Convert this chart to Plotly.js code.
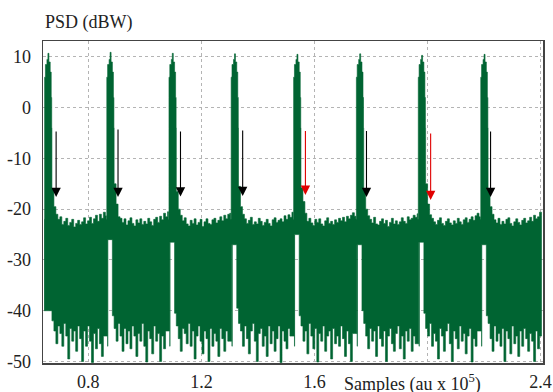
<!DOCTYPE html>
<html>
<head>
<meta charset="utf-8">
<script src="https://cdn.plot.ly/plotly-3.0.1.min.js"></script>
<style>html,body{margin:0;padding:0;background:#fff;}#chart{width:553px;height:392px;}</style>
</head>
<body>
<div id="chart"></div>
<script>
// ---- Data (x in units of 10^5 samples, y in dBW) ----
const peakX   = [0.657, 0.877, 1.097, 1.317, 1.538, 1.760, 1.979, 2.200];
const peakTop = [10.7, 10.9, 10.7, 10.6, 10.5, 10.6, 10.3, 10.5];
const gapLow  = [-40, -26, -26.5, -27, -25, -27, -26.5, -27];

// typical peak profile: offsets from the peak (10^5 samples) and levels (dBW)
const peakShapeDx = [-0.0135, -0.0117, -0.0088, -0.0035, 0, 0.0035, 0.0081, 0.0117, 0.0135];
const peakShapeDb = [-22, 6, 8.5, 9.5, null, 9, 7, 2, -4];

// noise blocks after each peak: sample offset start and spacing (10^5 samples)
const blockStart = 0.0142;
const blockStep = 0.007;

const upper1 = [-16,-19.5,-21,-22,-21.5,-23,-22.4,-21.8,-23.2,-22.6,-22,-23.5,-22.8,-22.2,-23,-22.5,-21.7,-22.9,-22.3,-21.6,-22.8,-21.9,-21.2,-22.4,-21,-21.8,-20.6,-21.3];
const lower1 = [-40,-42,-44,-46.5,-43,-44.5,-47,-42.5,-45,-49.5,-43.5,-46,-44,-48,-43,-45.5,-50,-44,-47,-43,-46,-50.2,-44.5,-47.5,-43.5,-46.5,-49,-45];
const upper2 = [-15,-19,-21.5,-21.8,-22.6,-21.9,-23.1,-22.3,-21.7,-22.8,-23.3,-22.1,-22.7,-21.9,-23,-22.4,-22.9,-21.8,-22.5,-23.2,-22,-21.6,-22.6,-21.4,-22.1,-20.8,-21.5,-20.5];
const lower2 = [-41,-43.5,-46,-42.5,-45,-48,-43.5,-46.5,-44,-47.5,-43,-45,-49,-44.5,-46,-42.5,-47,-50.1,-44,-45.5,-48.5,-43,-46,-44.5,-50,-45,-47.5,-44];
const upper3 = [-16.5,-20,-21.2,-22.3,-21.7,-22.9,-23.3,-22.2,-22.8,-21.9,-23.1,-22.6,-22,-23.4,-22.5,-21.9,-22.8,-23,-22.1,-21.8,-22.7,-22.2,-21.5,-22.3,-21.2,-21.9,-21,-20.8];
const lower3 = [-40.5,-43,-45.5,-48,-43.5,-44.5,-46.5,-42.5,-47,-44,-49.5,-45,-43,-46,-48.5,-44,-45.5,-50,-43.5,-47,-44.5,-46,-49,-43.5,-45.5,-48,-44,-46];
const upper4 = [-15.5,-19.5,-21,-21.9,-22.8,-22.2,-21.6,-23,-22.5,-22.9,-21.8,-22.4,-23.2,-22.6,-22,-22.8,-23.3,-22.1,-21.7,-22.6,-22.2,-21.9,-22.5,-21.3,-22,-21.1,-21.6,-20.6];
const lower4 = [-39.5,-42.5,-44,-47,-43,-45.5,-48.5,-44,-42.5,-46,-50,-44.5,-43.5,-47,-45,-49,-43,-46.5,-44,-48,-45.5,-43,-50.2,-44,-46,-47.5,-43.5,-45];
const upper5 = [-15.8,-18.5,-20.8,-22.4,-21.8,-22.7,-23.2,-22,-22.6,-21.9,-22.9,-23.3,-22.3,-21.7,-22.8,-22.4,-23,-22.1,-22.6,-21.8,-22.3,-21.6,-22.5,-21.4,-21.9,-21.2,-20.7,-21.4];
const lower5 = [-41,-43,-46,-44,-48.5,-42.5,-45,-47.5,-43.5,-50.1,-44.5,-46,-43,-48,-45,-44,-49.5,-43.5,-46.5,-45,-47,-43,-45.5,-49,-44,-46.5,-50,-44.5];
const upper6 = [-16,-20,-21.3,-22,-22.7,-21.6,-22.9,-23.1,-22.4,-21.9,-22.8,-22.2,-23.4,-22.6,-21.8,-22.9,-22.3,-23,-22.5,-21.7,-22.4,-22.8,-21.5,-22.1,-21.8,-21.2,-21.6,-20.9];
const lower6 = [-40,-42.5,-45,-47.5,-43.5,-46,-44,-49,-43,-45.5,-47,-44,-50,-45,-43.5,-46.5,-48,-44.5,-43,-47.5,-45,-49.5,-44,-46,-43.5,-48,-45,-46.5];
const upper7 = [-15,-19,-21.1,-21.8,-22.5,-23,-22.2,-21.7,-22.8,-23.2,-22.4,-21.9,-22.7,-23.1,-22.3,-22.8,-21.8,-22.5,-23,-22.1,-21.7,-22.6,-22,-21.5,-22.2,-21.3,-20.8,-21.5];
const lower7 = [-40.5,-43.5,-45,-42.5,-47,-44.5,-46,-49.5,-43.5,-45,-48,-44,-42.5,-46.5,-50,-44,-45.5,-47.5,-43,-46,-44.5,-48.5,-45,-43.5,-50.1,-45.5,-47,-44];
const upper8 = [-16,-19.5,-21,-22.1,-22.7,-21.8,-23,-22.4,-22.9,-22,-21.7,-22.8,-23.3,-22.5,-21.9,-22.6,-23.1,-22.2,-21.8,-22.7,-22.3,-21.6,-22.4,-21.2,-21.9,-21.5,-20.6,-21.3];
const lower8 = [-41,-42.5,-45.5,-48,-43,-46,-44.5,-47,-43.5,-50,-44,-45.5,-48.5,-43,-46.5,-45,-49,-44,-47,-43.5,-45.5,-48,-44.5,-46,-50,-44,-47.5,-45];

const blockUpper = [upper1, upper2, upper3, upper4, upper5, upper6, upper7, upper8];
const blockLower = [lower1, lower2, lower3, lower4, lower5, lower6, lower7, lower8];

// marker arrows
const arrowX     = [0.686, 0.905, 1.126, 1.346, 1.568, 1.784, 2.011, 2.223];
const arrowTail  = [-4.4, -4.0, -4.4, -4.2, -4.3, -4.3, -4.8, -4.4];
const arrowTip   = [-17.6, -17.6, -17.5, -17.4, -17.2, -17.6, -18.2, -17.6];
const arrowColor = ['#000000','#000000','#000000','#000000','#e00000','#000000','#e00000','#000000'];

const xTickVals = [0.8, 1.2, 1.6, 2.0, 2.4];
const xTickText = ['0.8', '1.2', '1.6', '', '2.4'];
const yTickVals = [-50, -40, -30, -20, -10, 0, 10];
const yTickText = ['-50', '-40', '-30', '-20', '-10', '0', '10'];

// ---- Build the PSD envelope polygon ----
const ux = [], uy = [], lx = [], ly = [];
for (let k = 0; k < peakX.length; k++) {
  for (let s = 0; s < peakShapeDx.length; s++) {
    ux.push(peakX[k] + peakShapeDx[s]);
    uy.push(peakShapeDb[s] === null ? peakTop[k] : peakShapeDb[s]);
  }
  if (k > 0) {
    const prev = blockLower[k - 1];
    lx.push(peakX[k] - 0.0100); ly.push(prev[prev.length - 1]);
    lx.push(peakX[k] - 0.0092); ly.push(gapLow[k]);
    lx.push(peakX[k] - 0.0088); ly.push(gapLow[k]);
    lx.push(peakX[k] - 0.0082); ly.push(-47);
    lx.push(peakX[k] - 0.0072); ly.push(gapLow[k]);
  } else {
    lx.push(peakX[k] + peakShapeDx[0]); ly.push(gapLow[k]);
  }
  lx.push(peakX[k] + 0.0080); ly.push(gapLow[k]);
  const U = blockUpper[k], L = blockLower[k];
  for (let j = 0; j < U.length; j++) {
    const x = peakX[k] + blockStart + j * blockStep;
    ux.push(x); uy.push(U[j]);
    lx.push(x); ly.push(L[j]);
  }
}
const polyX = ux.concat(lx.slice().reverse());
const polyY = uy.concat(ly.slice().reverse());

const green = '#006432';
const traces = [{
  type: 'scatter', mode: 'lines', x: polyX, y: polyY,
  fill: 'toself', fillcolor: green,
  line: {color: green, width: 0.6, shape: 'hv'},
  hoverinfo: 'skip'
}];

const annotations = arrowX.map((x, i) => ({
  x: x, y: arrowTip[i], ax: x, ay: arrowTail[i],
  xref: 'x', yref: 'y', axref: 'x', ayref: 'y',
  showarrow: true, arrowhead: 2, arrowsize: 1.7, arrowwidth: 1.1,
  arrowcolor: arrowColor[i], text: '', standoff: 0
}));
annotations.push({
  xref: 'paper', yref: 'paper', x: 0, y: 1.056, xanchor: 'left', yanchor: 'middle',
  text: 'PSD (dBW)', showarrow: false, font: {family: 'Liberation Serif', size: 18, color: '#222'}
});
annotations.push({
  xref: 'paper', yref: 'paper', x: 0.598, y: -0.062, xanchor: 'left', yanchor: 'middle',
  text: 'Samples (au x 10<sup>5</sup>)', showarrow: false, font: {family: 'Liberation Serif', size: 18, color: '#222'}
});

const axisCommon = {
  showgrid: true, gridcolor: '#b4b4b4', gridwidth: 1, griddash: 'dot',
  showline: true, mirror: true, linecolor: '#444', linewidth: 1.5,
  zeroline: false, ticks: 'outside', tickcolor: 'rgba(0,0,0,0)',
  tickfont: {family: 'Liberation Serif', size: 18, color: '#222'}
};

const layout = {
  width: 553, height: 392,
  margin: {l: 43, r: 10, t: 41, b: 29, pad: 0},
  paper_bgcolor: '#ffffff', plot_bgcolor: '#ffffff',
  showlegend: false,
  font: {family: 'Liberation Serif', size: 18, color: '#222'},
  xaxis: Object.assign({}, axisCommon, {range: [0.6396, 2.4085], tickmode: 'array', tickvals: xTickVals, ticktext: xTickText, ticklen: 2}),
  yaxis: Object.assign({}, axisCommon, {range: [-50.3, 13.13], tickmode: 'array', tickvals: yTickVals, ticktext: yTickText, ticklen: 7}),
  annotations: annotations
};

Plotly.newPlot('chart', traces, layout, {staticPlot: true, displayModeBar: false});
</script>
</body>
</html>
